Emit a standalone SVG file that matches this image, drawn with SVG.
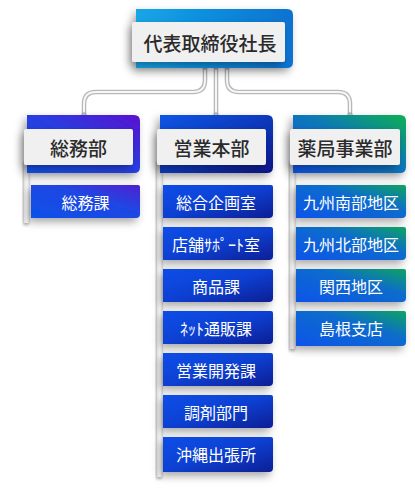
<svg xmlns="http://www.w3.org/2000/svg" width="415" height="500" viewBox="0 0 415 500">
<defs>
  <filter id="sh" x="-30%" y="-30%" width="160%" height="170%">
    <feDropShadow dx="-3" dy="4" stdDeviation="4" flood-color="#000" flood-opacity="0.35"/>
  </filter>
  <filter id="shs" x="-30%" y="-30%" width="160%" height="170%">
    <feDropShadow dx="-1" dy="2" stdDeviation="1.5" flood-color="#000" flood-opacity="0.3"/>
  </filter>
  <linearGradient id="gTop" x1="0" y1="0" x2="1" y2="0">
    <stop offset="0" stop-color="#14a6e8"/>
    <stop offset="1" stop-color="#0a72d0"/>
  </linearGradient>
  <linearGradient id="gL" x1="0" y1="1" x2="1" y2="0">
    <stop offset="0" stop-color="#1450e6"/>
    <stop offset="0.55" stop-color="#2a3ce0"/>
    <stop offset="1" stop-color="#5a10d0"/>
  </linearGradient>
  <linearGradient id="gLc" x1="0" y1="1" x2="1" y2="0">
    <stop offset="0" stop-color="#0c52ea"/>
    <stop offset="0.6" stop-color="#2046e2"/>
    <stop offset="1" stop-color="#5020d2"/>
  </linearGradient>
  <linearGradient id="gM" x1="0" y1="0" x2="1" y2="1">
    <stop offset="0" stop-color="#0e56e4"/>
    <stop offset="0.55" stop-color="#0a36b8"/>
    <stop offset="1" stop-color="#0a1686"/>
  </linearGradient>
  <linearGradient id="gMc" x1="0" y1="0" x2="1" y2="1">
    <stop offset="0" stop-color="#0a4ee8"/>
    <stop offset="0.5" stop-color="#0a40d2"/>
    <stop offset="1" stop-color="#0a1e94"/>
  </linearGradient>
  <linearGradient id="gR" x1="0" y1="1" x2="1" y2="0">
    <stop offset="0" stop-color="#0a52e6"/>
    <stop offset="0.55" stop-color="#0c78b8"/>
    <stop offset="1" stop-color="#10b050"/>
  </linearGradient>
  <linearGradient id="gRc" x1="0" y1="1" x2="1" y2="0">
    <stop offset="0" stop-color="#0a54ea"/>
    <stop offset="0.6" stop-color="#0a6ccc"/>
    <stop offset="1" stop-color="#10a460"/>
  </linearGradient>
  <linearGradient id="gBar" x1="0" y1="0" x2="1" y2="0">
    <stop offset="0" stop-color="#e6e6e6"/>
    <stop offset="0.5" stop-color="#fbfbfb"/>
    <stop offset="1" stop-color="#d8d8d8"/>
  </linearGradient>
</defs>
<style>
  .lbl{fill:#f0f0f0;filter:url(#sh)}
  .lt{font-family:"Noto Sans CJK JP","Noto Sans CJK SC",sans-serif;font-size:19px;font-weight:500;fill:#2a2a2a;text-anchor:middle;dominant-baseline:central}
  .ct{font-family:"Noto Sans CJK JP","Noto Sans CJK SC",sans-serif;font-size:16px;fill:#fff;text-anchor:middle;dominant-baseline:central}
  .bar{fill:url(#gBar);filter:url(#shs)}
  .pipeo{fill:none;stroke:#b8b8b8;stroke-width:4.5;stroke-linecap:round}
  .pipei{fill:none;stroke:#f6f6f6;stroke-width:2;stroke-linecap:round}
  .nub{fill:#c8c8c8;stroke:#999;stroke-width:0.8}
</style>

<g id="connectors">
  <path class="pipeo" d="M205,66 V80 Q205,92 193,92 H96 Q84,92 84,104 V115"/>
  <path class="pipeo" d="M216,66 V115"/>
  <path class="pipeo" d="M227,66 V80 Q227,92 239,92 H338 Q350,92 350,104 V115"/>
  <path class="pipei" d="M205,66 V80 Q205,92 193,92 H96 Q84,92 84,104 V115"/>
  <path class="pipei" d="M216,66 V115"/>
  <path class="pipei" d="M227,66 V80 Q227,92 239,92 H338 Q350,92 350,104 V115"/>
  <circle class="nub" cx="205" cy="67" r="2.2"/>
  <circle class="nub" cx="216" cy="67" r="2.2"/>
  <circle class="nub" cx="227" cy="67" r="2.2"/>
  <circle class="nub" cx="84" cy="115" r="2.2"/>
  <circle class="nub" cx="216" cy="115" r="2.2"/>
  <circle class="nub" cx="350" cy="115" r="2.2"/>
</g>

<g id="ceo">
  <path d="M136,9 H287 Q293,9 293,15 V62 Q293,68 287,68 H136 Z" fill="url(#gTop)" filter="url(#sh)"/>
  <rect class="lbl" x="132" y="22" width="153" height="40" rx="2"/>
  <text class="lt" x="210" y="42">代表取締役社長</text>
</g>

<g id="soumu">
  <rect class="bar" x="24" y="160" width="6" height="63"/>
  <path d="M27,115 H134 Q140,115 140,121 V167 Q140,173 134,173 H27 Z" fill="url(#gL)" filter="url(#sh)"/>
  <rect class="lbl" x="24" y="129" width="109" height="36" rx="2"/>
  <text class="lt" x="78.5" y="147">総務部</text>
</g>
<g id="soumuka">
  <path d="M31,185 H138 Q140,185 140,187 V214 Q140,218 136,218 H31 Z" fill="url(#gLc)" filter="url(#sh)"/>
  <text class="ct" x="85.5" y="201.5">総務課</text>
</g>

<g id="eigyo">
  <rect class="bar" x="157" y="160" width="6" height="317"/>
  <path d="M160,115 H267 Q273,115 273,121 V167 Q273,173 267,173 H160 Z" fill="url(#gM)" filter="url(#sh)"/>
  <rect class="lbl" x="157" y="129" width="109" height="36" rx="2"/>
  <text class="lt" x="211.5" y="147">営業本部</text>
</g>
<g id="m1"><path d="M163,185 H271 Q273,185 273,187 V214 Q273,218 269,218 H163 Z" fill="url(#gMc)" filter="url(#sh)"/><text class="ct" x="216" y="201.5">総合企画室</text></g>
<g id="m2"><path d="M163,227 H271 Q273,227 273,229 V256 Q273,260 269,260 H163 Z" fill="url(#gMc)" filter="url(#sh)"/><text class="ct" x="216" y="243.5">店舗ｻﾎﾟｰﾄ室</text></g>
<g id="m3"><path d="M163,269 H271 Q273,269 273,271 V298 Q273,302 269,302 H163 Z" fill="url(#gMc)" filter="url(#sh)"/><text class="ct" x="216" y="285.5">商品課</text></g>
<g id="m4"><path d="M163,311 H271 Q273,311 273,313 V340 Q273,344 269,344 H163 Z" fill="url(#gMc)" filter="url(#sh)"/><text class="ct" x="216" y="327.5">ﾈｯﾄ通販課</text></g>
<g id="m5"><path d="M163,353 H271 Q273,353 273,355 V382 Q273,386 269,386 H163 Z" fill="url(#gMc)" filter="url(#sh)"/><text class="ct" x="216" y="369.5">営業開発課</text></g>
<g id="m6"><path d="M163,395 H271 Q273,395 273,397 V424 Q273,428 269,428 H163 Z" fill="url(#gMc)" filter="url(#sh)"/><text class="ct" x="216" y="411.5">調剤部門</text></g>
<g id="m7"><path d="M163,437 H271 Q273,437 273,439 V468 Q273,472 269,472 H163 Z" fill="url(#gMc)" filter="url(#sh)"/><text class="ct" x="216" y="454">沖縄出張所</text></g>

<g id="yakkyoku">
  <rect class="bar" x="290" y="160" width="6" height="189"/>
  <path d="M293,115 H400 Q406,115 406,121 V167 Q406,173 400,173 H293 Z" fill="url(#gR)" filter="url(#sh)"/>
  <rect class="lbl" x="290" y="129" width="110" height="36" rx="2"/>
  <text class="lt" x="345" y="147">薬局事業部</text>
</g>
<g id="r1"><path d="M296,185 H404 Q406,185 406,187 V214 Q406,218 402,218 H296 Z" fill="url(#gRc)" filter="url(#sh)"/><text class="ct" x="351" y="201.5">九州南部地区</text></g>
<g id="r2"><path d="M296,227 H404 Q406,227 406,229 V256 Q406,260 402,260 H296 Z" fill="url(#gRc)" filter="url(#sh)"/><text class="ct" x="351" y="243.5">九州北部地区</text></g>
<g id="r3"><path d="M296,269 H404 Q406,269 406,271 V298 Q406,302 402,302 H296 Z" fill="url(#gRc)" filter="url(#sh)"/><text class="ct" x="351" y="285.5">関西地区</text></g>
<g id="r4"><path d="M296,311 H404 Q406,311 406,313 V342 Q406,346 402,346 H296 Z" fill="url(#gRc)" filter="url(#sh)"/><text class="ct" x="351" y="328">島根支店</text></g>
</svg>
